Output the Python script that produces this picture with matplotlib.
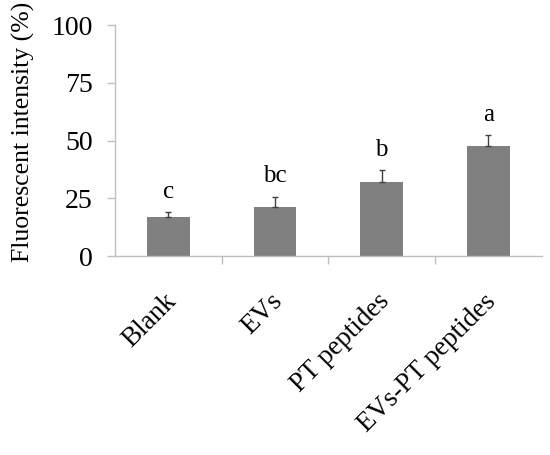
import numpy as np
import matplotlib
matplotlib.use("Agg")
import matplotlib.pyplot as plt
import matplotlib.transforms as mtransforms

# data
groups = ["Blank", "EVs", "PT peptides", "EVs-PT peptides"]
means = [16.9, 21.1, 32.2, 47.8]
errors = [2.2, 4.7, 4.9, 4.6]
letters = ["c", "bc", "b", "a"]
yticks = [0, 25, 50, 75, 100]

plt.rcParams['font.family'] = ['Liberation Serif', 'DejaVu Serif']

fig = plt.figure(figsize=(5.5, 4.55), dpi=100)
ax = fig.add_axes([0.209, 0.437, 0.776, 0.508])

x = np.arange(len(groups))
ax.bar(x, means, width=0.4, color='#808080', zorder=2)
ax.errorbar(x, means, yerr=[np.zeros(len(errors)), errors], fmt='none',
            ecolor='#404040', elinewidth=1, capsize=2, capthick=1, zorder=3)

# significance letters
for xi, m, e, s in zip(x, means, errors, letters):
    ax.text(xi, m + e + 4, s, ha='center', va='bottom', fontsize=18)

ax.set_xlim(-0.5, 3.5)
ax.set_ylim(0, 100)
ax.set_yticks(yticks)
ax.set_yticklabels([str(v) for v in yticks], fontsize=20)
ax.set_ylabel("Fluorescent intensity (%)", fontsize=18.5)
ax.yaxis.set_label_coords(-0.187, 0.539)

ax.set_xticks(x)
ax.set_xticklabels(groups, rotation=45, ha='right', rotation_mode='anchor', fontsize=19.5)
ax.set_xticks([0.5, 1.5, 2.5], minor=True)
ax.tick_params(axis='x', which='major', length=0, pad=30)
ax.tick_params(axis='x', which='minor', length=6, color='#bfbfbf', width=1)
ax.tick_params(axis='y', length=6, color='#bfbfbf', width=1, pad=10)

# nudge rotated labels to sit like the original
shift = mtransforms.ScaledTranslation(-5 / 100, 9 / 100, fig.dpi_scale_trans)
for lbl in ax.get_xticklabels():
    lbl.set_transform(lbl.get_transform() + shift)

for side in ['top', 'right']:
    ax.spines[side].set_visible(False)
for side in ['left', 'bottom']:
    ax.spines[side].set_color('#bfbfbf')
    ax.spines[side].set_linewidth(1)

fig.savefig("out.png", dpi=100)
